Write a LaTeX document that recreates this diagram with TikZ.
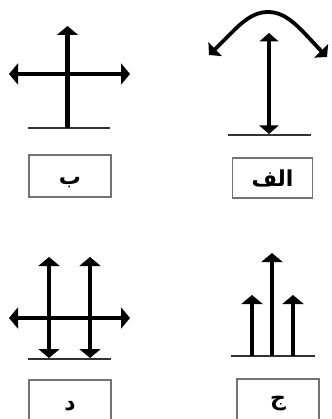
\documentclass[tikz,border=0pt]{standalone}
\usepackage{fontspec}
\usetikzlibrary{arrows.meta}
\newfontfamily\arabicfont[Script=Arabic]{DejaVu Sans}
\TeXXeTstate=1
\begin{document}
\begin{tikzpicture}[x=1pt,y=-1pt,
 arr/.style={line width=4.8pt, -{Triangle[width=21pt,length=9pt]}},
 darr/.style={line width=4.8pt, {Triangle[width=21pt,length=9pt]}-{Triangle[width=21pt,length=9pt]}},
 tdarr/.style={line width=3.8pt, {Triangle[width=19pt,length=8.5pt]}-{Triangle[width=19pt,length=8.5pt]}},
 base/.style={line width=2pt, black!80},
 lbl/.style={draw=black!55, line width=1.2pt, minimum width=82pt, minimum height=42pt, inner sep=0pt, text height=8pt, text depth=0pt, font=\arabicfont\bfseries\fontsize{22}{26}\selectfont}]
\clip (0,0) rectangle (331,419);
\fill[white] (0,0) rectangle (331,419);
% panel b
\draw[base] (28,128) -- (110,128);
\draw[arr] (67.5,128) -- (67.5,26);
\draw[darr] (9,74) -- (130,74);
\node[lbl] (b) at (70,176) {\raisebox{-5pt}{\beginR ب\endR}};
% panel alef
\draw[base] (228,135) -- (311,135);
\draw[tdarr] (269,134) -- (269,33);
\draw[tdarr] (209,55) .. controls (235,30) and (248,12) .. (268,12) .. controls (288,12) and (301,30) .. (327,57);
\node[lbl, minimum width=80pt, minimum height=40pt] (alef) at (272.5,178) {\raisebox{-5pt}{\beginR الف\endR}};
% panel dal
\draw[base] (28,359) -- (111,359);
\draw[darr] (49,358) -- (49,257);
\draw[darr] (90,358) -- (90,257);
\draw[darr] (9,318) -- (130,318);
\node[lbl] (dal) at (70,401) {\raisebox{-5pt}{\beginR د\endR}};
% panel jim
\draw[base] (231,356) -- (315,356);
\draw[arr] (272,356) -- (272,253);
\draw[arr] (252,356) -- (252,295);
\draw[arr] (293,356) -- (293,295);
\node[lbl] (jim) at (278,400) {\raisebox{-1pt}{\beginR ج\endR}};
\end{tikzpicture}
\end{document}
